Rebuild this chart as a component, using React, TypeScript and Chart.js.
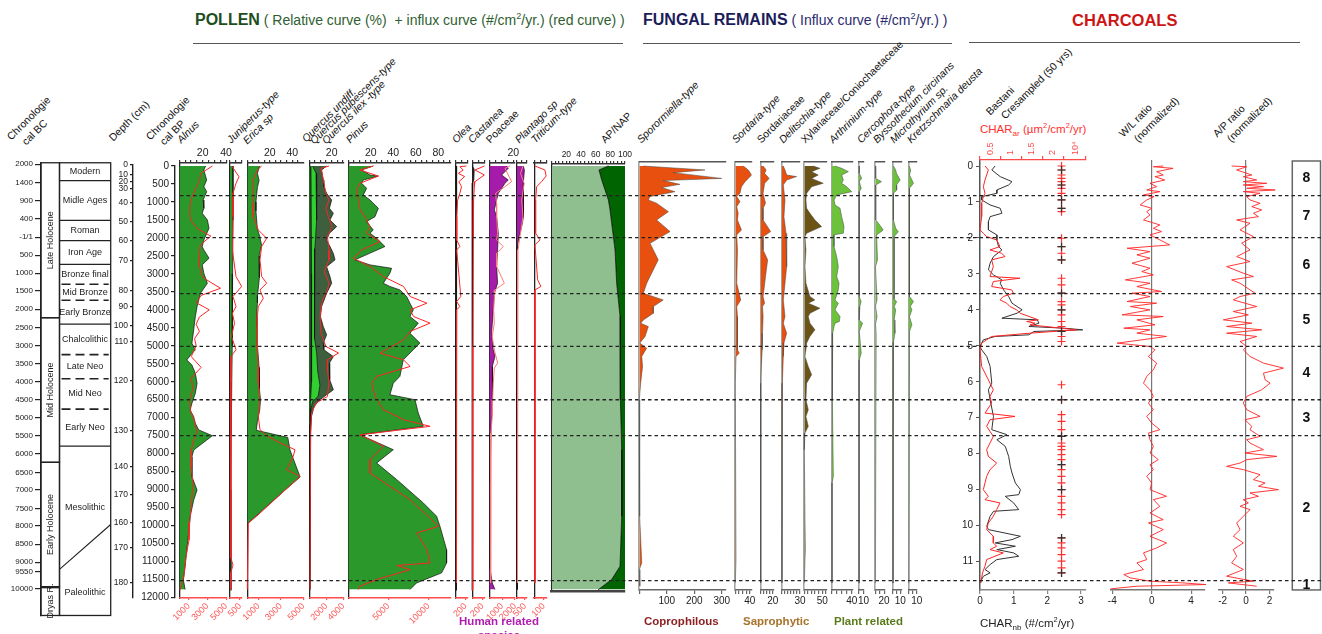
import React, { useEffect, useRef } from 'react';
import { Chart, registerables } from 'chart.js';

Chart.register(...registerables);

const FONT = "'Liberation Sans', Arial, Helvetica, sans-serif";
const NARROW = "'Liberation Sans Narrow', 'Liberation Sans', Arial, sans-serif";
Chart.defaults.font.family = FONT;
Chart.defaults.color = '#222';

const PAGE_W = 1322;
const PAGE_H = 634;
const AGE0_PX = 166;
const PX_PER_YR = 431.5 / 12000;
const ageAtPx = (px: number) => (px - AGE0_PX) / PX_PER_YR;
const range = (a: number, b: number, s: number) => {
  const r: number[] = [];
  for (let v = a; v <= b + 1e-9; v += s) r.push(Math.round(v * 1000) / 1000);
  return r;
};

// ---------------- chronology ----------------
const bcTickAges = [-50, 460, 970, 1470, 1980, 2480, 2980, 3470, 3980, 4490, 4990, 5500, 6000, 6500, 7000, 7510, 8010, 8520, 9010, 9520, 10010, 10520, 11020, 11280, 11760];
const bcTickLabels = ['2000', '1400', '900', '400', '-1/1', '500', '1000', '1500', '2000', '2500', '3000', '3500', '4000', '4500', '5000', '5500', '6000', '6500', '7000', '7500', '8000', '8500', '9000', '9550', '10000'];
const depthTickAges = [-47, 250, 437, 620, 1020, 1549, 2066, 2642, 3457, 3913, 4449, 4894, 5960, 7369, 8362, 9149, 9928, 10603, 11588];
const depthTickLabels = ['0', '10', '20', '30', '40', '50', '60', '70', '80', '90', '100', '110', '120', '130', '140', '170', '160', '170', '180'];
const bpTickAges = range(0, 12000, 500);
const epochNames = ['Late Holocene', 'Mid Holocene', 'Early Holocene', 'Dryas R.'];
const epochBounds = [-90, 4220, 8240, 11700, 12500];
const epochGap = [11680, 11745];
const periodNames = ['Modern', 'Midle Ages', 'Roman', 'Iron Age', 'Bronze final', 'Mid Bronze', 'Early Bronze', 'Chalcolithic', 'Late Neo', 'Mid Neo', 'Early Neo', 'Mesolithic', 'Paleolithic'];
const periodBounds = [-90, 408, 1510, 2075, 2735, 3290, 3735, 4400, 5245, 5915, 6760, 7790, 11220, 12500];
const periodEdges = ['solid', 'solid', 'solid', 'solid', 'dash', 'dash', 'solid', 'dash', 'dash', 'dash', 'solid', 'slant'];
const slantRightAge = 9970;

// ---------------- zones ----------------
const zoneNames = ['8', '7', '6', '5', '4', '3', '2', '1'];
const zoneBounds = [-139, 824, 1991, 3547, 5019, 6500, 7500, 11529, 11790];
const zoneLines = [824, 1991, 3547, 5019, 6500, 7500, 11529];

// ---------------- pollen (%) and influx ----------------
const alnusAge = [0, 110, 390, 575, 715, 945, 1175, 1315, 1500, 1730, 2055, 2245, 2335, 2565, 2750, 2985, 3260, 3540, 3910, 4190, 4560, 4930, 5115, 5210, 5395, 5535, 5765, 6045, 6320, 6600, 6785, 6970, 7155, 7340, 7500, 7900, 8085, 8640, 9010, 9290, 9750, 10215, 10680, 11140, 11515, 11780];
const alnusPct = [22.5, 21, 23.4, 21, 23.4, 20.4, 21, 19.6, 24, 25.4, 21, 19.6, 21, 25.4, 19.6, 21, 24, 18.1, 15.2, 13.7, 12.3, 10.8, 13.7, 10.8, 6.4, 10.8, 13.7, 15.2, 13.7, 10.8, 9.3, 12.3, 13.7, 16.6, 28.3, 12.3, 10.8, 10.8, 15.2, 12.3, 9.3, 7.9, 6.4, 5, 3.5, 5];
const alnusInfAge = [0, 200, 400, 600, 800, 1000, 1250, 1500, 1750, 1950, 2200, 2500, 2800, 3100, 3400, 3600, 3800, 4000, 4200, 4400, 4600, 4800, 5000, 5300, 5600, 5900, 6200, 6500, 6800, 7100, 7400, 7550, 7900, 8400, 8900, 9400, 9900, 10400, 10900, 11400, 11800];
const alnusInf = [3540, 2325, 2150, 1800, 1460, 1180, 1110, 1180, 1980, 3370, 2220, 2150, 2150, 2500, 4400, 2330, 1800, 3200, 2150, 1800, 2150, 1630, 1800, 1280, 2330, 1280, 1460, 1110, 1180, 1630, 1870, 1630, 1280, 1280, 1460, 1280, 1110, 1040, 690, 490, 70];

const junAge = [0, 500, 1500, 3000, 4000, 5000, 6000, 7500, 9000, 11800];
const junPct = [2.5, 2.5, 2.5, 2.2, 2, 1.8, 1.5, 1, 0.8, 0.8];
const junInfAge = [0, 110, 300, 480, 760, 945, 1410, 2335, 3075, 3350, 3630, 3910, 4095, 4370, 4740, 5110, 5300, 5575, 6500, 8000, 10900, 11100, 11300, 11780];
const junInf = [75, 225, 450, 300, 150, 150, 150, 120, 300, 580, 150, 300, 120, 225, 75, 300, 45, 45, 45, 45, 45, 150, 45, 30];

const ericaAge = [0, 200, 400, 600, 800, 1000, 1250, 1500, 1750, 1950, 2200, 2500, 2800, 3100, 3400, 3600, 3800, 4200, 4600, 5000, 5300, 5600, 5900, 6200, 6500, 6800, 7100, 7350, 7550, 7900, 8400, 8650, 9000, 9500, 9950];
const ericaPct = [11, 9, 10.5, 9, 8.3, 7.7, 7.7, 8.3, 9, 11, 12.7, 10.5, 11, 10.5, 9.8, 9, 9, 8.3, 9, 9, 9.8, 10.5, 10.5, 11, 11.8, 11, 9, 8, 36, 38, 44, 47, 34, 16, 0];
const ericaInfAge = [0, 110, 390, 760, 1040, 1410, 1780, 2010, 2240, 2610, 3070, 3260, 3445, 3680, 3910, 4190, 4560, 5110, 5580, 6040, 6500, 6960, 7330, 7500, 7700, 7890, 8075, 8450, 8630, 9740, 9930, 11780];
const ericaInf = [1280, 900, 530, 480, 530, 530, 980, 1730, 1280, 1130, 1280, 1730, 1130, 1430, 980, 900, 900, 900, 980, 980, 1130, 980, 1130, 1730, 2920, 4260, 4100, 3520, 4700, 830, 90, 0];

const quercusAge = [0, 110, 390, 575, 760, 945, 1175, 1315, 1500, 1685, 1870, 2055, 2240, 2430, 2610, 2800, 3075, 3260, 3540, 3910, 4190, 4465, 4695, 4925, 5110, 5300, 5480, 5670, 5945, 6225, 6360, 6500, 6690, 6965, 7425, 11780];
const quercusUndiff = [15.5, 11, 12.5, 13, 15.5, 20, 18, 21.5, 18.5, 24.5, 18, 15.5, 18.5, 21.5, 23, 15.5, 18.5, 20, 15.5, 11, 10, 12.5, 15.5, 12.5, 13, 21.5, 18, 18, 18.5, 21.5, 15.5, 9.5, 4.2, 2, 1.2, 0.6];
const quercusPubAge = [0, 200, 600, 1500, 2300, 3000, 4000, 4800, 5200, 5700, 6100, 6400, 6550, 6750, 7200, 11780];
const quercusPub = [3, 6, 6.5, 6.6, 5, 4.5, 4.5, 5, 6.6, 7.5, 9.5, 8, 3, 1.5, 1, 0.5];
const quercusIlexAge = [0, 3000, 6000, 6600, 7200, 11780];
const quercusIlex = [1.5, 2, 2, 1, 0.6, 0.3];
const quercusInfAge = [0, 65, 390, 760, 945, 1175, 1410, 1685, 1960, 2330, 2610, 2935, 3260, 3445, 3720, 3910, 4190, 4650, 5020, 5200, 5390, 5670, 6040, 6410, 6590, 6870, 7425, 11780];
const quercusInf = [2320, 1380, 1650, 1950, 2320, 1950, 2240, 2690, 2130, 2320, 2320, 1760, 2320, 2130, 1570, 1380, 1270, 1380, 1950, 3440, 2130, 2130, 2320, 2130, 820, 260, 150, 75];

const pinusAge = [0, 110, 250, 280, 390, 480, 620, 805, 945, 1175, 1410, 1545, 1780, 1870, 2010, 2240, 2610, 2750, 2845, 2980, 3260, 3350, 3445, 3630, 3815, 4000, 4185, 4370, 4650, 4925, 5110, 5390, 5850, 6040, 6360, 6500, 6870, 7240, 7475, 7890, 8260, 8720, 9370, 9740, 10020, 10670, 11040, 11315, 11595, 11780];
const pinusPct = [22.2, 11.9, 19.3, 26.7, 13.3, 11.9, 16.3, 13.3, 19.3, 26.7, 23.7, 16.3, 22.2, 19.3, 25.2, 32.6, 5.9, 19.3, 38.5, 37, 31.1, 37, 45.9, 51.9, 54.8, 57.8, 54.8, 62.2, 54.8, 63.7, 57.8, 48.9, 45.9, 40, 37, 59.3, 62.2, 66.7, 10.4, 40, 25.2, 43, 66.7, 78.5, 81.5, 87.4, 87.4, 83, 60.7, 54.8];
const pinusInfAge = [0, 110, 280, 480, 665, 1220, 1410, 1685, 1870, 2100, 2335, 2565, 2795, 3075, 3350, 3630, 3815, 4000, 4185, 4370, 4600, 4835, 5205, 5390, 5575, 5850, 6040, 6410, 6780, 7055, 7240, 7475, 7795, 8165, 8540, 9280, 10020, 10205, 10670, 11040, 11110, 11225, 11500, 11685, 11780];
const pinusInf = [3130, 1460, 3750, 1460, 1040, 1460, 2085, 2710, 2290, 3960, 1670, 625, 2710, 4380, 6880, 7710, 9800, 7710, 8130, 10200, 7710, 6880, 3960, 6880, 7710, 3540, 2920, 3340, 4380, 6880, 10200, 1460, 4380, 2710, 2710, 7710, 11260, 8550, 9800, 10200, 6050, 7710, 3540, 1460, 1250];

const oleaAge = [0, 500, 1000, 2000, 11800];
const oleaPct = [0.6, 0.5, 0.3, 0.2, 0.1];
const oleaInfAge = [0, 20, 110, 205, 295, 435, 575, 760, 945, 1410, 2055, 2240, 2335, 3630, 3770, 3910, 4000, 5110, 6965, 11595];
const oleaInf = [216, 80, 150, 50, 180, 60, 115, 80, 35, 15, 15, 80, 15, 100, 15, 80, 15, 15, 10, 5];

const castaneaAge = [0, 65, 110, 390, 480, 11800];
const castaneaPct = [0, 1.2, 1.5, 1.2, 0, 0];
const castaneaInfAge = [0, 110, 250, 435, 575, 945, 2000, 5000, 11800];
const castaneaInf = [240, 53, 237, 53, 40, 26, 20, 13, 7];

const poaceaeAge = [0, 65, 250, 390, 480, 760, 945, 1220, 1410, 1870, 2335, 2795, 3260, 3540, 4000, 4650, 5110, 5295, 5575, 6040, 6500, 6965, 7425, 7890, 8815, 11130, 11595, 11780];
const poaceaePct = [14.5, 15.8, 10.3, 15.8, 13, 7.5, 6.1, 4.2, 6.1, 7.5, 6.9, 6.1, 6.9, 4.2, 3.3, 1.9, 3.3, 4.7, 2.5, 2.8, 2.5, 1.9, 1.4, 0.6, 0.6, 0.3, 2.5, 4.7];
const poaceaeInfAge = [0, 65, 250, 435, 575, 760, 1040, 1410, 1870, 2055, 2240, 2425, 2795, 3260, 3445, 3630, 4000, 4370, 4740, 5110, 5480, 5620, 6040, 6500, 6965, 7425, 7890, 11595];
const poaceaeInf = [1610, 1220, 1480, 1740, 1220, 490, 570, 570, 650, 570, 1090, 570, 570, 1170, 440, 390, 340, 390, 230, 390, 650, 390, 310, 260, 230, 130, 80, 130];

const plantagoAge = [0, 110, 480, 945, 1410, 1685, 1965, 2240, 11780];
const plantagoPct = [5.2, 6.1, 5.2, 5.5, 5.2, 3.9, 1.7, 0.3, 0.3];
const plantagoInfAge = [0, 205, 480, 945, 1410, 1870, 2335, 3260, 11595];
const plantagoInf = [370, 215, 445, 290, 370, 215, 60, 30, 30];

const triticumInfAge = [0, 110, 280, 435, 575, 945, 1870, 2055, 2195, 3165, 3350, 3445, 11595];
const triticumInf = [7, 112, 125, 77, 25, 14, 14, 60, 7, 35, 70, 7, 7];

const apAge = [0, 110, 390, 665, 945, 1220, 1595, 2335, 3260, 4185, 5110, 6500, 7890, 9740, 11130, 11500, 11780];
const apPct = [77.3, 64.5, 68.2, 72.7, 77.3, 79.5, 81.8, 86.4, 88.6, 93.2, 94.1, 93.2, 95.5, 95.5, 93.2, 81.8, 63.6];

// ---------------- fungal influx ----------------
const sporAge = [0, 110, 185, 345, 405, 510, 600, 715, 850, 945, 1035, 1270, 1500, 1825, 2150, 2610, 2795, 3260, 3540, 3725, 3910, 4095, 4280, 4370, 4465, 4740, 4925, 5065, 5295, 5575, 6040, 6500, 7150, 7890, 9740, 11040, 11225, 11685];
const sporVal = [15, 239, 124, 300, 87, 148, 81, 130, 39, 33, 63, 106, 63, 112, 39, 69, 57, 27, 15, 87, 51, 51, 15, 5, 33, 21, 2, 27, 9, 12, 5, 0, 2, 0, 2, 9, 0, 2];
const sordAge = [0, 110, 250, 435, 575, 760, 850, 990, 1130, 1315, 1500, 1780, 1915, 2335, 3260, 3725, 3910, 4185, 5110, 5205, 5295, 6040, 10945, 11595];
const sordVal = [22, 36, 45, 27, 17, 13, 4, 13, 4, 8, 6, 17, 4, 6, 4, 15, 4, 6, 6, 11, 2, 0, 2, 0];
const sdcAge = [0, 110, 205, 345, 480, 760, 1035, 1175, 1500, 1825, 1965, 2335, 2610, 3075, 3630, 3815, 3910, 4185, 4650, 5110, 5575, 6040, 11595];
const sdcVal = [4, 9, 6.5, 14, 6.5, 4, 8, 4, 4, 16.5, 4, 4, 11.5, 8, 4, 6.5, 3, 4, 3, 2.5, 1, 0, 0];
const delAge = [0, 110, 250, 295, 390, 530, 945, 1410, 1870, 2335, 2795, 3260, 3725, 4185, 4370, 4650, 4925, 5295, 6040, 11595];
const delVal = [2.2, 5, 7.8, 24.4, 7.8, 2.2, 5, 3.3, 6.7, 7.8, 7.8, 5, 2.2, 5, 2.2, 7.8, 3.3, 2.2, 0.6, 0];
const xylAge = [0, 65, 157, 250, 345, 480, 575, 760, 945, 1175, 1315, 1500, 1685, 1870, 1965, 2335, 2795, 3260, 3630, 3725, 3815, 3955, 4095, 4185, 4370, 4555, 4740, 4925, 5110, 5295, 5575, 5805, 6040, 6500, 6780, 6965, 7240, 7425, 7890, 10670, 11595];
const xylVal = [25, 43.5, 20.4, 38.9, 20.4, 52.8, 20.4, 6.5, 4.6, 6.5, 15.7, 29.6, 48.2, 6.5, 1.9, 4.6, 1.9, 4.6, 15.7, 29.6, 11.1, 43.5, 15.7, 11.1, 15.7, 29.6, 15.7, 6.5, 4.6, 1.9, 11.1, 20.4, 6.5, 4.6, 11.1, 4.6, 11.1, 1.9, 0, 2.8, 0];
const arthAge = [0, 65, 157, 250, 390, 480, 575, 715, 805, 945, 1085, 1175, 1410, 1685, 1870, 1915, 2240, 2520, 2795, 3075, 3260, 3445, 3725, 3815, 4000, 4185, 4325, 4370, 4465, 4650, 5110, 5575, 6500, 8630, 8815, 11595];
const arthVal = [6.7, 20, 33.4, 20, 23.3, 20, 30, 40, 10, 4.7, 6.7, 16.7, 20, 24.7, 23.3, 4.7, 4.7, 10, 13.3, 10, 14.7, 13.3, 6.7, 13.3, 6.7, 16.7, 15.3, 6.7, 4.7, 2, 1.3, 2, 0.7, 3.3, 0.7, 0.7];
const cercAge = [0, 200, 343, 435, 620, 715, 3630, 3770, 3910, 4280, 4370, 4600, 5200, 5400, 11600];
const cercVal = [0.5, 0.5, 6, 0.5, 5, 0.5, 0.5, 4.6, 2, 0.5, 8, 0.5, 5, 0.5, 0.3];
const byssAge = [0, 345, 435, 530, 1500, 1640, 1780, 1920, 2610, 2800, 3720, 3900, 4190, 4400, 4650, 11600];
const byssVal = [0.5, 1, 14, 1, 1, 10, 18, 3, 5, 0.5, 4, 0.5, 4, 0.5, 2, 0.3];
const microAge = [0, 110, 200, 390, 530, 670, 760, 1500, 1730, 1830, 1960, 2700, 2750, 3700, 3770, 3910, 4000, 4280, 4370, 4650, 4900, 11600];
const microVal = [1, 4, 5, 10, 5, 5.3, 1, 1, 4, 7.5, 2, 2, 2, 2, 5.3, 2, 4, 2, 3, 3, 1, 0.5];
const kretAge = [0, 110, 250, 480, 620, 3630, 3770, 3900, 4000, 4190, 4417, 4600, 11600];
const kretVal = [0.5, 2.5, 1, 6, 1, 1, 6, 2, 4, 1, 4, 1, 0.3];

// ---------------- charcoal ----------------
const charNbAge = [0, 110, 296, 435, 528, 667, 760, 852, 944, 1083, 1176, 1315, 1408, 1546, 1778, 1917, 2056, 2241, 2334, 2519, 2704, 2889, 3028, 3167, 3260, 3445, 3630, 3815, 4000, 4093, 4232, 4278, 4371, 4463, 4510, 4556, 4602, 4695, 4741, 4834, 5019, 5112, 5297, 5575, 6038, 6223, 6500, 6964, 7334, 7473, 7612, 7797, 8075, 8353, 8538, 8815, 9001, 9140, 9186, 9371, 9556, 9603, 9742, 10019, 10112, 10297, 10390, 10482, 10575, 10668, 10760, 10853, 10945, 11084, 11223, 11316, 11408, 11594];
const charNb = [0.45, 0.35, 0.6, 0.95, 0.85, 0.5, 0.5, 0.05, 0.05, 0.3, 0.6, 0.65, 0.3, 0.25, 0.25, 0.5, 0.5, 0.55, 0.65, 0.4, 0.3, 0.25, 0.4, 0.65, 0.6, 0.7, 0.85, 0.95, 1.25, 1.1, 0.65, 1.7, 1.75, 1.45, 2.5, 3.05, 1.6, 1.45, 0.45, 0.1, 0, 0.05, 0.2, 0.3, 0.35, 0.25, 0.3, 0.4, 0.35, 0.8, 0.5, 0.75, 0.85, 0.9, 0.95, 1.05, 1.2, 1.15, 0.75, 1.0, 1.15, 0.4, 0.3, 0.2, 0.25, 1.2, 0.95, 0.45, 1.05, 0.5, 1.0, 1.15, 0.5, 0.3, 0.15, 0.3, 0.1, 0];
const charArAge = [0, 110, 389, 574, 760, 852, 1037, 1408, 1778, 1871, 1963, 2056, 2241, 2334, 2426, 2519, 2611, 2797, 3074, 3121, 3213, 3352, 3445, 3537, 3630, 3723, 3815, 3908, 4000, 4093, 4278, 4324, 4371, 4417, 4556, 4649, 4741, 4834, 4926, 5112, 5575, 6038, 6223, 6408, 6593, 6871, 6964, 7056, 7241, 7519, 7890, 8075, 8260, 8445, 8630, 9001, 9186, 9279, 9371, 9556, 9742, 9927, 10112, 10297, 10482, 10575, 10668, 10760, 10945, 11131, 11316, 11594];
const charAr = [0.12, 0.2, 0.12, 0.08, 0.12, 0.08, 0.04, 0.04, 0, 0.08, 0.16, 0.4, 0.48, 0.24, 0.52, 0.6, 0.28, 0.32, 0.24, 0.96, 0.32, 0.28, 0.76, 0.8, 0.56, 0.48, 0.64, 0.72, 0.88, 0.96, 1.4, 1.12, 1.32, 1.2, 2.32, 1.2, 0.28, 0.16, 0.04, 0, 0.04, 0.24, 0.32, 0.24, 0.28, 0.12, 0.84, 0.24, 0.16, 0.32, 0.16, 0.2, 0.4, 0.24, 0.16, 0.08, 0.2, 0.12, 0.48, 0.4, 0.32, 0.2, 0.16, 0.32, 0.32, 0.4, 0.24, 0.56, 0.16, 0.12, 0.06, 0.02];
const markRedAges = [0, 111, 250, 343, 435, 528, 620, 759, 944, 1176, 1269, 2009, 2241, 2426, 2611, 3121, 3306, 3537, 3769, 3861, 4000, 4139, 4324, 4463, 4602, 4741, 4880, 6084, 6500, 6917, 7102, 7334, 7519, 7704, 7797, 7890, 8028, 8167, 8306, 8445, 8630, 8815, 9001, 9186, 9371, 9556, 9695, 10343, 10482, 10621, 10806, 10991, 11177, 11316];
const markBlackAges = [111, 528, 944, 1176, 2241, 2611, 3537, 4000, 4602, 6500, 7519, 8306, 9001, 10343, 11316];
const MARK_COL = 2.42;

const wlAge = [0, 20, 65, 157, 250, 296, 389, 482, 574, 667, 713, 806, 852, 944, 1083, 1176, 1269, 1361, 1500, 1639, 1732, 1824, 1917, 2009, 2195, 2287, 2380, 2472, 2565, 2704, 2843, 2935, 3028, 3167, 3260, 3352, 3491, 3537, 3630, 3769, 3815, 3908, 4000, 4139, 4186, 4278, 4417, 4510, 4556, 4649, 4741, 4834, 4926, 5019, 5112, 5297, 5482, 5667, 5852, 6038, 6223, 6408, 6593, 6778, 6964, 7149, 7334, 7427, 7612, 7797, 7982, 8167, 8306, 8445, 8630, 8815, 9001, 9186, 9279, 9464, 9649, 9834, 9927, 10112, 10297, 10482, 10621, 10760, 10945, 11038, 11223, 11362, 11455, 11547, 11594, 11640, 11686, 11760];
const wlVal = [1.17, 0.17, 2.17, 0.5, 1.17, 0.33, 1.33, -0.17, 0.5, -0.5, 0.83, -0.83, 0.23, -0.5, -1.17, 0, -0.5, -0.17, -0.83, 0.83, 0.17, 1, -0.17, 0.5, 1.83, -2.5, -0.17, -1.5, -0.17, -2, -0.17, -1, 0.17, -2.67, -0.17, -1.5, 1, -2, -0.17, -2.5, 0.5, -2.17, -0.17, -3, 1.17, -1.5, 0.33, -2.83, -0.17, -1.5, 1.5, -1, -3.5, -0.17, 0.33, -0.33, 0.5, 0.17, -0.5, -0.83, -0.17, 0.17, -0.33, 0.17, -0.5, 0, 0.83, -0.33, -0.17, 0.17, -0.17, 0.67, -0.17, 0.17, -0.5, 0, -0.17, 1.5, 0.17, 0.83, -0.17, 1.17, -0.33, 1.17, -0.17, 1.5, 0.5, -0.83, -0.5, -1.5, -0.83, -2.83, -2.17, -0.17, 3.17, 5.5, -1.5, -4.17];
const apRatioAge = [0, 20, 110, 250, 296, 389, 435, 482, 528, 574, 620, 667, 713, 759, 852, 944, 1037, 1130, 1222, 1315, 1408, 1500, 1593, 1778, 1963, 2148, 2334, 2519, 2658, 2797, 2982, 3074, 3167, 3260, 3445, 3537, 3630, 3723, 3908, 4047, 4139, 4278, 4371, 4463, 4556, 4649, 4741, 4880, 5019, 5112, 5297, 5482, 5621, 5760, 5945, 6038, 6223, 6408, 6593, 6778, 6964, 7056, 7241, 7334, 7519, 7612, 7704, 7890, 7982, 8075, 8167, 8260, 8353, 8445, 8584, 8723, 8815, 8908, 9001, 9093, 9186, 9279, 9371, 9464, 9556, 9742, 9927, 10112, 10297, 10482, 10668, 10853, 11038, 11223, 11408, 11547, 11594, 11686];
const apRatio = [-1.23, 0.06, -0.8, 0.49, -0.23, 0.91, -0.23, 1.77, -0.23, 1.49, 0.06, 2.49, -0.23, 1.2, 0.06, 0.34, 1.2, 0.49, 1.34, 0.63, 1.06, -0.8, 0.34, -0.51, 0.63, -0.37, 0.34, -0.8, 0.34, -1.66, -0.23, 0.63, -1.23, -0.51, 0.34, 0.77, -0.51, -1.09, 0.91, -1.09, 0.2, -1.94, 0.49, -1.66, 1.34, -1.66, 0.91, -0.51, 0.06, -0.23, 0.34, 1.49, 3.2, 1.49, 1.63, 2.06, 1.34, 0.06, -0.23, 0.06, 1.2, -0.09, 0.49, 0.34, 1.2, 0.06, 0.34, 1.49, -0.09, 2.63, 0.06, -0.51, -1.66, -0.23, 1.2, 0.63, 1.63, 1.06, 2.77, 0.34, 1.06, -0.23, 0.2, -0.51, 0.34, -0.23, -0.8, -0.51, -1.09, -0.23, -1.09, -0.8, -1.23, -0.23, -1.66, 0.63, -1.51, 0.91];

// ---------------- styling ----------------
const C_GREEN = '#2a982a';
const C_RED = '#ff2424';
const C_REDAX = '#ff4a4a';
const C_PURPLE = '#a41ca9';
const C_ORANGE = '#e8500f';
const C_BROWN = '#6b5215';
const C_LGREEN = '#6cc23a';
const C_FGREY = '#a0a6a0';
const POLLEN_TOP = 163;
const POLLEN_BOT = 598;
const FUNG_TOP = 161.7;
const FUNG_BOT = 590;
const PADX = 28;

type AxisSpec = {
  pos: 'top' | 'bottom';
  min?: number;
  max: number;
  ticks?: number[];
  labels?: number[];
  labelText?: (v: number) => string;
  color?: string;
  text?: string;
  font?: number;
  rot?: number;
  size?: number;
  bw?: number;
  tickLen?: number;
  zero?: string;
};
type SeriesSpec = {
  ages: number[];
  vals: number[];
  axis?: 'x' | 'x2';
  fill?: string;
  fillTo?: number;
  line?: string;
  lw?: number;
  points?: string;
};
type PanelSpec = {
  x0: number;
  w: number;
  top: number;
  bot: number;
  x: AxisSpec;
  x2?: AxisSpec;
  left?: { color: string; width: number };
  yTicks?: { ticks: number[]; label: (v: number) => string; size: number; font: number };
  series: SeriesSpec[];
};

function xScale(a: AxisSpec) {
  const has = !!(a.ticks && a.ticks.length);
  const ticks = has ? (a.ticks as number[]) : [a.min ?? 0];
  const col = a.color ?? '#222';
  return {
    type: 'linear',
    position: a.pos,
    min: a.min ?? 0,
    max: a.max,
    afterBuildTicks: (s: any) => {
      s.ticks = ticks.map((v) => ({ value: v }));
    },
    afterFit: (s: any) => {
      s.height = a.size ?? 0;
    },
    ticks: {
      autoSkip: false,
      color: a.text ?? col,
      font: { size: a.font ?? 10 },
      padding: 1,
      minRotation: a.rot ?? 0,
      maxRotation: a.rot ?? 0,
      callback: (v: any) => {
        const n = Number(v);
        if (!has) return '';
        if (a.labelText) return a.labelText(n);
        return a.labels && a.labels.includes(n) ? String(n) : '';
      },
    },
    grid: {
      display: true,
      drawOnChartArea: !!a.zero,
      drawTicks: has,
      tickLength: a.tickLen ?? 3,
      tickColor: col,
      lineWidth: 1.2,
      color: (c: any) => (a.zero && c.tick && c.tick.value === 0 ? a.zero : 'rgba(0,0,0,0)'),
    },
    border: { display: true, color: col, width: a.bw ?? 1.2 },
  };
}

function panelConfig(p: PanelSpec, canvasLeft: number, canvasW: number) {
  const ySize = p.yTicks ? p.yTicks.size : 0;
  const axes = [p.x, p.x2].filter(Boolean) as AxisSpec[];
  const topSize = axes.filter((a) => a.pos === 'top').reduce((s, a) => s + (a.size ?? 0), 0);
  const botSize = axes.filter((a) => a.pos === 'bottom').reduce((s, a) => s + (a.size ?? 0), 0);
  const left = p.left ?? { color: '#222', width: 1.3 };
  const n = p.series.length;
  const datasets = p.series.map((s, i) => ({
    type: 'line',
    data: s.ages.map((a, j) => ({ x: s.vals[j], y: a })),
    xAxisID: s.axis ?? 'x',
    yAxisID: 'y',
    borderColor: s.points ? s.points : s.line ?? '#111',
    borderWidth: s.lw ?? 0.7,
    backgroundColor: s.fill ?? 'rgba(0,0,0,0)',
    fill: s.fill ? (s.fillTo !== undefined ? { value: s.fillTo } : 'origin') : false,
    showLine: !s.points,
    pointRadius: s.points ? 4 : 0,
    pointStyle: 'cross',
    pointBorderColor: s.points,
    pointBorderWidth: 1.2,
    tension: 0,
    order: n - i,
    clip: false,
  }));
  const scales: any = {
    y: {
      type: 'linear',
      reverse: true,
      position: 'left',
      min: ageAtPx(p.top),
      max: ageAtPx(p.bot),
      afterFit: (s: any) => {
        s.width = ySize;
      },
      afterBuildTicks: (s: any) => {
        if (p.yTicks) s.ticks = p.yTicks.ticks.map((v) => ({ value: v }));
      },
      ticks: {
        display: !!p.yTicks,
        autoSkip: false,
        font: { size: p.yTicks ? p.yTicks.font : 10 },
        color: '#222',
        padding: 3,
        callback: (v: any) => (p.yTicks ? p.yTicks.label(Number(v)) : ''),
      },
      grid: { display: !!p.yTicks, drawOnChartArea: false, tickLength: 4, tickColor: left.color },
      border: { display: left.width > 0, color: left.color, width: left.width },
    },
    x: xScale(p.x),
  };
  if (p.x2) scales.x2 = xScale(p.x2);
  return {
    type: 'line',
    data: { datasets },
    options: {
      animation: false,
      responsive: false,
      maintainAspectRatio: false,
      indexAxis: 'y',
      events: [],
      layout: {
        autoPadding: false,
        padding: {
          left: p.x0 - canvasLeft - ySize,
          right: canvasLeft + canvasW - p.x0 - p.w,
          top: p.top - topSize,
          bottom: PAGE_H - p.bot - botSize,
        },
      },
      plugins: { legend: { display: false }, tooltip: { enabled: false }, title: { display: false } },
      scales,
    },
  };
}

const pctAxis = (max: number, step: number, labels: number[], font = 10.5): AxisSpec => ({
  pos: 'top', max, ticks: range(0, max, step), labels, color: '#333', text: '#222', font, size: 20, tickLen: 3, bw: 1.6,
});
const infAxis = (max: number, labels: number[]): AxisSpec => ({
  pos: 'bottom', max, ticks: labels, labels, color: C_REDAX, text: '#ff5858', font: 9, rot: 45, size: 30, tickLen: 2, bw: 1.6,
});
const fungAxis = (max: number, ticks: number[], labels: number[]): AxisSpec => ({
  pos: 'bottom', max, ticks, labels, color: '#666', text: '#222', font: 10, size: 22, tickLen: 4, bw: 1.5,
});
const fungTop = (max: number): AxisSpec => ({ pos: 'top', max, color: '#555', size: 0, bw: 1.5 });

const pollen = (x0: number, w: number, x: AxisSpec, x2: AxisSpec | undefined, series: SeriesSpec[]): PanelSpec => ({
  x0, w, top: POLLEN_TOP, bot: POLLEN_BOT, x, x2, series,
});
const fungal = (x0: number, w: number, max: number, ticks: number[], labels: number[], ages: number[], vals: number[], color: string): PanelSpec => ({
  x0, w, top: FUNG_TOP, bot: FUNG_BOT, x: fungAxis(max, ticks, labels), x2: fungTop(max),
  left: { color: C_FGREY, width: 1.6 },
  series: [{ ages, vals, fill: color, line: '#444', lw: 0.5 }],
});

const PANELS: PanelSpec[] = [
  pollen(179.3, 46.8, pctAxis(40, 5, [20, 40]), infAxis(5000, [1000, 3000, 5000]), [
    { ages: alnusAge, vals: alnusPct, fill: C_GREEN },
    { ages: alnusInfAge, vals: alnusInf, axis: 'x2', line: C_RED, lw: 1 },
  ]),
  pollen(230, 12, pctAxis(10, 5, []), infAxis(600, [500]), [
    { ages: junAge, vals: junPct, fill: C_GREEN },
    { ages: junInfAge, vals: junInf, axis: 'x2', line: C_RED, lw: 1 },
  ]),
  pollen(247.3, 56, pctAxis(49.8, 5, [20, 40]), infAxis(5000, [1000, 3000, 5000]), [
    { ages: ericaAge, vals: ericaPct, fill: C_GREEN },
    { ages: ericaInfAge, vals: ericaInf, axis: 'x2', line: C_RED, lw: 1 },
  ]),
  pollen(309.3, 34, pctAxis(30.4, 5, [20]), infAxis(4000, [2000, 4000]), [
    { ages: quercusAge, vals: quercusUndiff, fill: '#3d5f3d' },
    { ages: quercusPubAge, vals: quercusPub, fill: '#2fd02f' },
    { ages: quercusIlexAge, vals: quercusIlex, fill: '#1d4d1d' },
    { ages: quercusInfAge, vals: quercusInf, axis: 'x2', line: C_RED, lw: 1 },
  ]),
  pollen(348.3, 102, pctAxis(90.7, 5, [20, 40, 60, 80]), infAxis(12720, [5000, 10000]), [
    { ages: pinusAge, vals: pinusPct, fill: C_GREEN },
    { ages: pinusInfAge, vals: pinusInf, axis: 'x2', line: C_RED, lw: 1 },
  ]),
  pollen(456, 12, pctAxis(10, 5, []), infAxis(250, [200]), [
    { ages: oleaAge, vals: oleaPct, fill: '#1a3d1a' },
    { ages: oleaInfAge, vals: oleaInf, axis: 'x2', line: C_RED, lw: 1 },
  ]),
  pollen(472.3, 12.7, pctAxis(10, 5, []), infAxis(250, [200]), [
    { ages: castaneaAge, vals: castaneaPct, fill: '#222' },
    { ages: castaneaInfAge, vals: castaneaInf, axis: 'x2', line: C_RED, lw: 1 },
  ]),
  pollen(489.3, 25.7, pctAxis(21.4, 5, [20]), infAxis(2000, [1000, 2000]), [
    { ages: poaceaeAge, vals: poaceaePct, fill: C_PURPLE },
    { ages: poaceaeInfAge, vals: poaceaeInf, axis: 'x2', line: '#ff7a7a', lw: 1 },
  ]),
  pollen(517, 9.7, pctAxis(8, 4, []), infAxis(600, [500]), [
    { ages: plantagoAge, vals: plantagoPct, fill: C_PURPLE },
    { ages: plantagoInfAge, vals: plantagoInf, axis: 'x2', line: '#ff7a7a', lw: 1 },
  ]),
  pollen(534.3, 12.3, pctAxis(10, 5, []), infAxis(130, [100]), [
    { ages: triticumInfAge, vals: triticumInf, axis: 'x2', line: C_RED, lw: 1 },
  ]),
  {
    x0: 551.7, w: 73.3, top: 164, bot: 591,
    x: pctAxis(100, 5, [20, 40, 60, 80, 100], 8.5),
    x2: { pos: 'bottom', max: 100, color: '#444', size: 0, bw: 2.6 },
    series: [
      { ages: apAge, vals: apPct, fill: '#006400', fillTo: 100 },
      { ages: apAge, vals: apPct, fill: '#8fbf8f' },
    ],
  },
  fungal(639.3, 86, 313, [0, 100, 200, 300], [100, 200, 300], sporAge, sporVal, C_ORANGE),
  fungal(735.3, 16.3, 45, [0, 10, 20, 30, 40], [40], sordAge, sordVal, C_ORANGE),
  fungal(760.7, 13.3, 22, [0, 5, 10, 15, 20], [20], sdcAge, sdcVal, C_ORANGE),
  fungal(782, 18, 30, range(0, 30, 5), [30], delAge, delVal, C_ORANGE),
  fungal(804.3, 22.3, 62, range(0, 60, 10), [50], xylAge, xylVal, C_BROWN),
  fungal(831.7, 21, 42, range(0, 40, 10), [40], arthAge, arthVal, C_LGREEN),
  fungal(859, 4.5, 10, [0, 10], [10], cercAge, cercVal, C_LGREEN),
  fungal(875.3, 9.7, 22, [0, 10, 20], [20], byssAge, byssVal, C_LGREEN),
  fungal(892.7, 9, 12, [0, 5, 10], [10], microAge, microVal, C_LGREEN),
  fungal(908.7, 8, 10, [0, 5, 10], [10], kretAge, kretVal, C_LGREEN),
  {
    x0: 980, w: 106, top: 160, bot: 590,
    x: { pos: 'bottom', max: 3.146, ticks: [0, 1, 2, 3], labelText: (v) => String(v), color: '#888', text: '#222', font: 10, size: 22, tickLen: 4, bw: 1.5 },
    x2: {
      pos: 'top', max: 2.545, ticks: [0, 0.5, 1, 1.5, 2, 2.545],
      labelText: (v) => (v === 0 ? '' : v > 2.4 ? '10\u2074' : String(v)),
      color: C_REDAX, text: C_REDAX, font: 9, rot: 90, size: 22, tickLen: 4, bw: 1.2,
    },
    left: { color: '#555', width: 1.5 },
    yTicks: { ticks: range(0, 11000, 1000), label: (v) => String(v / 1000), size: 22, font: 10 },
    series: [
      { ages: charNbAge, vals: charNb, line: '#333', lw: 1 },
      { ages: charArAge, vals: charAr, axis: 'x2', line: C_RED, lw: 1 },
      { ages: markRedAges, vals: markRedAges.map(() => MARK_COL), points: '#ff3030' },
      { ages: markBlackAges, vals: markBlackAges.map(() => MARK_COL), points: '#333' },
    ],
  },
  {
    x0: 1110.3, w: 94.7, top: 160, bot: 590,
    x: { pos: 'bottom', min: -4.2, max: 5.41, ticks: [-4, 0, 4], labelText: (v) => String(v), color: '#777', text: '#222', font: 10, size: 22, tickLen: 4, bw: 1.5, zero: '#777' },
    left: { color: 'rgba(0,0,0,0)', width: 0 },
    series: [{ ages: wlAge, vals: wlVal, line: C_RED, lw: 0.9 }],
  },
  {
    x0: 1218.3, w: 55, top: 160, bot: 590,
    x: { pos: 'bottom', min: -2.37, max: 2.33, ticks: [-2, 0, 2], labelText: (v) => String(v), color: '#777', text: '#222', font: 10, size: 22, tickLen: 4, bw: 1.5, zero: '#777' },
    left: { color: 'rgba(0,0,0,0)', width: 0 },
    series: [{ ages: apRatioAge, vals: apRatio, line: C_RED, lw: 0.9 }],
  },
];

// ---------------- axis / overlay configs ----------------
function axisConfig(o: {
  canvasLeft: number; canvasW: number; axisX: number; size: number; right?: number; top: number; bot: number;
  tickAges: number[]; tickLabels: string[]; font: number; tickLen: number; family?: string; plugins?: any[];
}) {
  return {
    type: 'line',
    data: { datasets: [] },
    plugins: o.plugins ?? [],
    options: {
      animation: false, responsive: false, events: [],
      layout: {
        autoPadding: false,
        padding: {
          left: o.axisX - o.canvasLeft - o.size,
          right: o.right !== undefined ? o.canvasLeft + o.canvasW - o.right : 0,
          top: o.top,
          bottom: PAGE_H - o.bot,
        },
      },
      plugins: { legend: { display: false }, tooltip: { enabled: false } },
      scales: {
        x: { type: 'linear', display: false, min: 0, max: 1 },
        y: {
          type: 'linear', reverse: true, position: 'left', min: ageAtPx(o.top), max: ageAtPx(o.bot),
          afterFit: (s: any) => { s.width = o.size; },
          afterBuildTicks: (s: any) => { s.ticks = o.tickAges.map((v) => ({ value: v })); },
          ticks: {
            autoSkip: false, color: '#222', padding: 2,
            font: { size: o.font, family: o.family ?? FONT },
            callback: (_v: any, i: number) => o.tickLabels[i],
          },
          grid: { drawOnChartArea: false, tickLength: o.tickLen, tickColor: '#222', lineWidth: 1.2 },
          border: { display: true, color: '#222', width: 1.4 },
        },
      },
    },
  };
}

function blankConfig(datasets: any[], plugins: any[], padL = 0, padR = 0) {
  return {
    type: 'line',
    data: { datasets },
    plugins,
    options: {
      animation: false, responsive: false, events: [],
      layout: { autoPadding: false, padding: { left: padL, right: padR, top: 0, bottom: 0 } },
      plugins: { legend: { display: false }, tooltip: { enabled: false } },
      scales: {
        x: { type: 'linear', display: false, min: 0, max: 1 },
        y: { type: 'linear', display: false, reverse: true, min: ageAtPx(0), max: ageAtPx(PAGE_H) },
      },
    },
  };
}

const chronoPlugin = {
  id: 'chrono',
  afterDraw(chart: any) {
    const { ctx, chartArea: a } = chart;
    const y = chart.scales.y;
    const py = (v: number) => y.getPixelForValue(v);
    const xe0 = a.left;
    const xe1 = a.left + 18.5;
    const xp1 = a.right;
    ctx.save();
    ctx.strokeStyle = '#222';
    ctx.lineWidth = 1.3;
    ctx.fillStyle = '#222';
    ctx.font = `9px ${NARROW}`;
    ctx.textAlign = 'center';
    ctx.textBaseline = 'middle';
    for (let i = 0; i < epochNames.length; i++) {
      const t = py(epochBounds[i]);
      const b = py(epochBounds[i + 1]);
      ctx.strokeRect(xe0, t, xe1 - xe0, b - t);
      ctx.save();
      ctx.translate((xe0 + xe1) / 2, (t + b) / 2);
      ctx.rotate(-Math.PI / 2);
      ctx.fillText(epochNames[i], 0, 0);
      ctx.restore();
    }
    ctx.fillRect(xe0, py(epochGap[0]), xe1 - xe0, py(epochGap[1]) - py(epochGap[0]));
    const nP = periodNames.length;
    ctx.strokeRect(xe1, py(periodBounds[0]), xp1 - xe1, py(periodBounds[nP]) - py(periodBounds[0]));
    for (let i = 1; i < nP; i++) {
      const style = periodEdges[i - 1];
      const yy = py(periodBounds[i]);
      ctx.beginPath();
      if (style === 'dash') {
        ctx.setLineDash([9, 5]);
        ctx.lineWidth = 1.6;
        ctx.moveTo(xe1 + 2, yy);
        ctx.lineTo(xp1 - 2, yy);
      } else if (style === 'slant') {
        ctx.setLineDash([]);
        ctx.lineWidth = 1.1;
        ctx.moveTo(xe1, yy);
        ctx.lineTo(xp1, py(slantRightAge));
      } else {
        ctx.setLineDash([]);
        ctx.lineWidth = 1.3;
        ctx.moveTo(xe1, yy);
        ctx.lineTo(xp1, yy);
      }
      ctx.stroke();
    }
    ctx.setLineDash([]);
    for (let i = 0; i < nP; i++) {
      const cy = (py(periodBounds[i]) + py(periodBounds[i + 1])) / 2;
      ctx.fillText(periodNames[i], (xe1 + xp1) / 2, cy);
    }
    ctx.restore();
  },
};

const zonePlugin = {
  id: 'zones',
  afterDraw(chart: any) {
    const { ctx, chartArea: a } = chart;
    const y = chart.scales.y;
    const t = y.getPixelForValue(zoneBounds[0]);
    const b = y.getPixelForValue(zoneBounds[zoneBounds.length - 1]);
    ctx.save();
    ctx.strokeStyle = '#666';
    ctx.lineWidth = 1.5;
    ctx.strokeRect(a.left, t, a.right - a.left, b - t);
    ctx.fillStyle = '#111';
    ctx.font = `bold 14px ${FONT}`;
    ctx.textAlign = 'center';
    ctx.textBaseline = 'middle';
    zoneNames.forEach((nm, i) => {
      const cy = (y.getPixelForValue(zoneBounds[i]) + y.getPixelForValue(zoneBounds[i + 1])) / 2;
      ctx.fillText(nm, (a.left + a.right) / 2, cy);
    });
    ctx.restore();
  },
};

// ---------------- components ----------------
function ChartCanvas({ left, width, config }: { left: number; width: number; config: () => any }) {
  const ref = useRef<HTMLCanvasElement | null>(null);
  useEffect(() => {
    if (!ref.current) return;
    const c = new Chart(ref.current, config());
    return () => c.destroy();
  }, []);
  return (
    <canvas
      ref={ref}
      width={width}
      height={PAGE_H}
      style={{ position: 'absolute', left, top: 0, width, height: PAGE_H }}
    />
  );
}

function Slant({ x, y, text, italic = false, size = 10.5, color = '#111' }: any) {
  const lh = size * 1.2;
  return (
    <span
      style={{
        position: 'absolute', left: x, top: y - lh, height: lh, lineHeight: `${lh}px`, fontSize: size,
        fontStyle: italic ? 'italic' : 'normal', whiteSpace: 'nowrap', transform: 'rotate(-45deg)',
        transformOrigin: '0 100%', color,
      }}
    >
      {text}
    </span>
  );
}

const SLANTS: [string, number, number, boolean][] = [
  ['Chronologie', 13, 143, false], ['cal BC', 28, 148, false],
  ['Depth (cm)', 115, 144, false],
  ['Chronologie', 152, 143, false], ['cal BP', 166, 148, false],
  ['Alnus', 183, 146, true], ['Juniperus-type', 233, 146, true], ['Erica sp', 249, 147, true],
  ['Quercus undiff.', 308, 145, true], ['Quercus pubescens-type', 316, 147, true], ['Quercus ilex -type', 328, 147, true],
  ['Pinus', 352, 146, true], ['Olea', 458, 146, true], ['Castanea', 474, 146, true], ['Poaceae', 492, 146, false],
  ['Plantago sp', 521, 146, true], ['Triticum-type', 537, 146, true], ['AP/NAP', 607, 146, false],
  ['Sporormiella-type', 643, 146, true], ['Sordaria-type', 738, 146, true], ['Sordariaceae', 763, 146, false],
  ['Delitschia-type', 785, 146, true], ['Xylariaceae/Coniochaetaceae', 807, 146, false], ['Arthrinium-type', 835, 146, true],
  ['Cercophora-type', 863, 146, true], ['Byssothecium circinans', 879, 146, true], ['Microthyrium sp.', 896, 146, true],
  ['Kretzschmaria deusta', 913, 146, true],
  ['Bastani', 992, 118, false], ['Cresampled (50 yrs)', 1007, 122, false],
  ['W/L ratio', 1125, 140, false], ['(normalized)', 1140, 145, false],
  ['A/P ratio', 1219, 140, false], ['(normalized)', 1233, 145, false],
];

const abs = (left: number, top: number, extra: any = {}) => ({ position: 'absolute' as const, left, top, whiteSpace: 'nowrap' as const, ...extra });
const supS = { fontSize: '0.65em', verticalAlign: 'super', lineHeight: 0 };
const subS = { fontSize: '0.7em', verticalAlign: 'sub', lineHeight: 0 };

export default function App() {
  return (
    <div style={{ position: 'absolute', left: 0, top: 0, width: PAGE_W, height: PAGE_H, overflow: 'hidden', background: '#fff', fontFamily: FONT }}>
      {/* headers */}
      <div style={abs(195, 11, { fontSize: 14, color: '#2f5e2f' })}>
        <b style={{ fontSize: 16, color: '#1e4d1e' }}>POLLEN</b> ( Relative curve (%)&nbsp; + influx curve (#/cm<span style={supS}>2</span>/yr.) (red curve) )
      </div>
      <div style={{ position: 'absolute', left: 193, top: 42.5, width: 430, height: 0, borderTop: '1.6px solid #555' }} />
      <div style={abs(643, 11, { fontSize: 14, color: '#2a2a6e' })}>
        <b style={{ fontSize: 16, color: '#1c1c5a' }}>FUNGAL REMAINS</b> ( Influx curve (#/cm<span style={supS}>2</span>/yr.) )
      </div>
      <div style={{ position: 'absolute', left: 643, top: 42.5, width: 309, height: 0, borderTop: '1.6px solid #555' }} />
      <div style={abs(1072, 11, { fontSize: 16.5, color: '#cc1515', fontWeight: 'bold' })}>CHARCOALS</div>
      <div style={{ position: 'absolute', left: 969, top: 42, width: 331, height: 0, borderTop: '1.6px solid #555' }} />

      {SLANTS.map(([t, x, y, it], i) => (
        <Slant key={i} x={x} y={y} text={t} italic={it} size={10.5} />
      ))}
      <div style={abs(980, 123, { fontSize: 11.5, color: '#ff3030' })}>
        CHAR<span style={subS}>ar</span> (µm<span style={supS}>2</span>/cm<span style={supS}>2</span>/yr)
      </div>

      <ChartCanvas
        left={0}
        width={112}
        config={() =>
          axisConfig({
            canvasLeft: 0, canvasW: 112, axisX: 41, size: 40, right: 110.7, top: 162.7, bot: 615.7,
            tickAges: bcTickAges, tickLabels: bcTickLabels, font: 8, tickLen: 6, family: NARROW, plugins: [chronoPlugin],
          })
        }
      />
      <ChartCanvas
        left={95}
        width={40}
        config={() =>
          axisConfig({
            canvasLeft: 95, canvasW: 40, axisX: 133, size: 38, top: 164.3, bot: 597.7,
            tickAges: depthTickAges, tickLabels: depthTickLabels, font: 8.5, tickLen: 3,
          })
        }
      />
      <ChartCanvas
        left={128}
        width={52}
        config={() =>
          axisConfig({
            canvasLeft: 128, canvasW: 52, axisX: 175, size: 46, top: 166, bot: 597.5,
            tickAges: bpTickAges, tickLabels: bpTickAges.map(String), font: 10, tickLen: 4,
          })
        }
      />

      {PANELS.map((p, i) => {
        const ySize = p.yTicks ? p.yTicks.size : 0;
        const L = Math.floor(p.x0 - PADX - ySize);
        const W = Math.ceil(p.x0 + p.w + PADX) - L;
        return <ChartCanvas key={i} left={L} width={W} config={() => panelConfig(p, L, W)} />;
      })}

      <ChartCanvas left={1290} width={32} config={() => blankConfig([], [zonePlugin], 2.3, 1.5)} />
      <ChartCanvas
        left={180}
        width={1142}
        config={() =>
          blankConfig(
            zoneLines.map((a) => ({
              data: [{ x: 0, y: a }, { x: 1, y: a }],
              borderColor: '#222', borderWidth: 1.3, borderDash: [3.5, 3], pointRadius: 0, fill: false,
            })),
            [],
          )
        }
      />

      {/* group labels */}
      <div style={abs(456, 614, { fontSize: 11.5, fontWeight: 'bold', color: '#b01cb0', textAlign: 'center', width: 86, lineHeight: '14px' })}>
        Human related<br />species
      </div>
      <div style={abs(644, 615, { fontSize: 11.5, fontWeight: 'bold', color: '#8b1e1e' })}>Coprophilous</div>
      <div style={abs(743, 615, { fontSize: 11.5, fontWeight: 'bold', color: '#a8722a' })}>Saprophytic</div>
      <div style={abs(834, 615, { fontSize: 11.5, fontWeight: 'bold', color: '#5b7b1b' })}>Plant related</div>
      <div style={abs(980, 617, { fontSize: 11.5, color: '#222' })}>
        CHAR<span style={subS}>nb</span> (#/cm<span style={supS}>2</span>/yr)
      </div>
    </div>
  );
}
